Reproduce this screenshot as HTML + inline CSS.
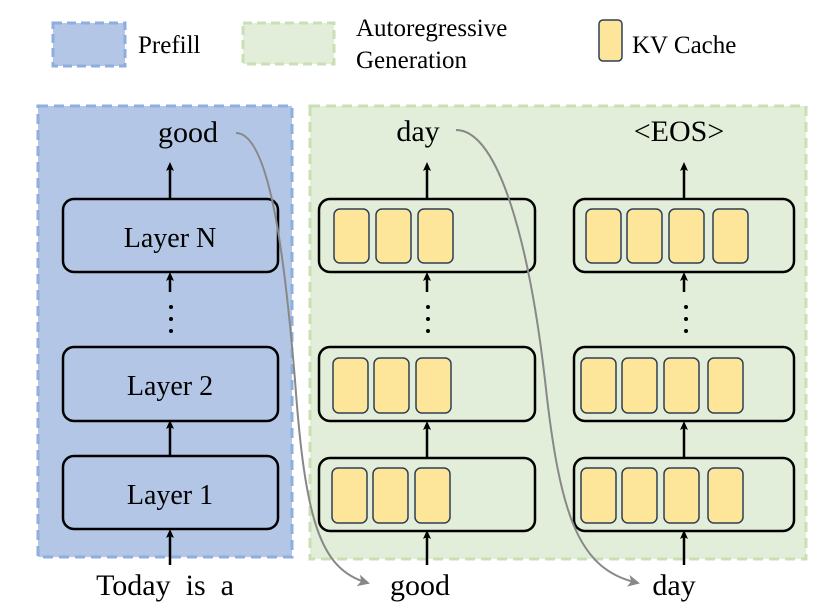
<!DOCTYPE html>
<html><head><meta charset="utf-8"><style>
html,body{margin:0;padding:0;background:#fff;}
svg{display:block;}
text{font-family:"Liberation Serif","Times New Roman","DejaVu Serif",serif;fill:#000;}
</style></head><body>
<svg width="833" height="616" viewBox="0 0 833 616" xmlns="http://www.w3.org/2000/svg" font-family="Liberation Serif, Times New Roman, serif">
<defs>
<marker id="ah" markerWidth="10" markerHeight="10" refX="5" refY="5" orient="auto" markerUnits="userSpaceOnUse"><path d="M0,1 L9,5 L0,9 L2,5 Z" fill="#000"/></marker>
<marker id="ag" markerWidth="14" markerHeight="12" refX="10" refY="6" orient="auto" markerUnits="userSpaceOnUse"><path d="M0,0 L12,6 L0,12 L3,6 Z" fill="#888"/></marker>
</defs>
<rect x="53" y="23" width="72" height="43" fill="#b3c6e6" stroke="#8eaee0" stroke-width="3" stroke-dasharray="9,5"/>
<text x="138" y="53" font-size="25">Prefill</text>
<rect x="243" y="23" width="91" height="41" fill="#e2eed9" stroke="#c8e0b4" stroke-width="3" stroke-dasharray="9,5"/>
<text x="356" y="36" font-size="25">Autoregressive</text>
<text x="356" y="68" font-size="25">Generation</text>
<rect x="599" y="20" width="23" height="41" rx="4" fill="#fde59a" stroke="#2f3e55" stroke-width="1.5"/>
<text x="632" y="53" font-size="25">KV Cache</text>
<rect x="38" y="106" width="254" height="451" fill="#b3c6e6" stroke="#8eaee0" stroke-width="3" stroke-dasharray="10,6"/>
<rect x="310" y="106" width="496" height="453" fill="#e2eed9" stroke="#c8e0b4" stroke-width="3" stroke-dasharray="10,6"/>
<g fill="#b3c6e6" stroke="#000" stroke-width="2.5">
<rect x="63" y="199" width="215" height="73" rx="11"/>
<rect x="63" y="347" width="215" height="74" rx="11"/>
<rect x="63" y="456" width="215" height="73" rx="11"/>
</g>
<text x="170" y="247" font-size="28" text-anchor="middle">Layer N</text>
<text x="170" y="395" font-size="28" text-anchor="middle">Layer 2</text>
<text x="170" y="504" font-size="28" text-anchor="middle">Layer 1</text>
<text x="188" y="142" font-size="30" text-anchor="middle">good</text>
<g stroke="#000" stroke-width="2.5" marker-end="url(#ah)">
<line x1="170" y1="199" x2="170" y2="166"/>
<line x1="170" y1="456" x2="170" y2="424"/>
<line x1="170" y1="565" x2="170" y2="533"/>
<line x1="427" y1="199" x2="427" y2="166"/>
<line x1="427" y1="457" x2="427" y2="425"/>
<line x1="427" y1="565" x2="427" y2="534"/>
<line x1="684" y1="199" x2="684" y2="166"/>
<line x1="684" y1="457" x2="684" y2="425"/>
<line x1="684" y1="565" x2="684" y2="534"/>
<line x1="170" y1="292" x2="170" y2="276"/>
<line x1="427" y1="292" x2="427" y2="276"/>
<line x1="684" y1="292" x2="684" y2="276"/>
</g>
<g fill="#000">
<circle cx="171" cy="307" r="2"/><circle cx="171" cy="319" r="2"/><circle cx="171" cy="331" r="2"/>
<circle cx="428" cy="307" r="2"/><circle cx="428" cy="319" r="2"/><circle cx="428" cy="331" r="2"/>
<circle cx="686" cy="307" r="2"/><circle cx="686" cy="319" r="2"/><circle cx="686" cy="331" r="2"/>
</g>
<g fill="#e2eed9" stroke="#000" stroke-width="2.5">
<rect x="319" y="199" width="216" height="73" rx="11"/>
<rect x="319" y="347" width="216" height="74" rx="11"/>
<rect x="319" y="458" width="216" height="73" rx="11"/>
<rect x="574" y="199" width="220" height="73" rx="11"/>
<rect x="574" y="347" width="220" height="74" rx="11"/>
<rect x="574" y="458" width="220" height="73" rx="11"/>
</g>
<g fill="#fde59a" stroke="#2f3e55" stroke-width="1.5">
<rect x="334" y="209" width="35" height="54" rx="6"/><rect x="376" y="209" width="35" height="54" rx="6"/><rect x="418" y="209" width="35" height="54" rx="6"/>
<rect x="333" y="358" width="35" height="55" rx="6"/><rect x="374" y="358" width="35" height="55" rx="6"/><rect x="416" y="358" width="35" height="55" rx="6"/>
<rect x="332" y="468" width="35" height="55" rx="6"/><rect x="373" y="468" width="35" height="55" rx="6"/><rect x="415" y="468" width="35" height="55" rx="6"/>
<rect x="586" y="209" width="35" height="54" rx="6"/><rect x="627" y="209" width="35" height="54" rx="6"/><rect x="669" y="209" width="35" height="54" rx="6"/><rect x="713" y="209" width="35" height="54" rx="6"/>
<rect x="581" y="358" width="35" height="55" rx="6"/><rect x="622" y="358" width="35" height="55" rx="6"/><rect x="664" y="358" width="35" height="55" rx="6"/><rect x="708" y="358" width="35" height="55" rx="6"/>
<rect x="581" y="468" width="35" height="55" rx="6"/><rect x="622" y="468" width="35" height="55" rx="6"/><rect x="664" y="468" width="35" height="55" rx="6"/><rect x="708" y="468" width="35" height="55" rx="6"/>
</g>
<text x="418" y="141" font-size="30" text-anchor="middle">day</text>
<text x="679" y="141" font-size="30" text-anchor="middle">&lt;EOS&gt;</text>
<text x="165" y="595" font-size="30" text-anchor="middle" xml:space="preserve">Today  is  a</text>
<text x="420" y="595" font-size="30" text-anchor="middle">good</text>
<text x="674" y="595" font-size="30" text-anchor="middle">day</text>
<path d="M236,133 C270,133 285,260 295,380 C305,520 320,570 368,583" fill="none" stroke="#888" stroke-width="2" marker-end="url(#ag)"/>
<path d="M456,130 C500,130 530,250 545,380 C560,520 580,570 638,583" fill="none" stroke="#888" stroke-width="2" marker-end="url(#ag)"/>
</svg>
</body></html>
